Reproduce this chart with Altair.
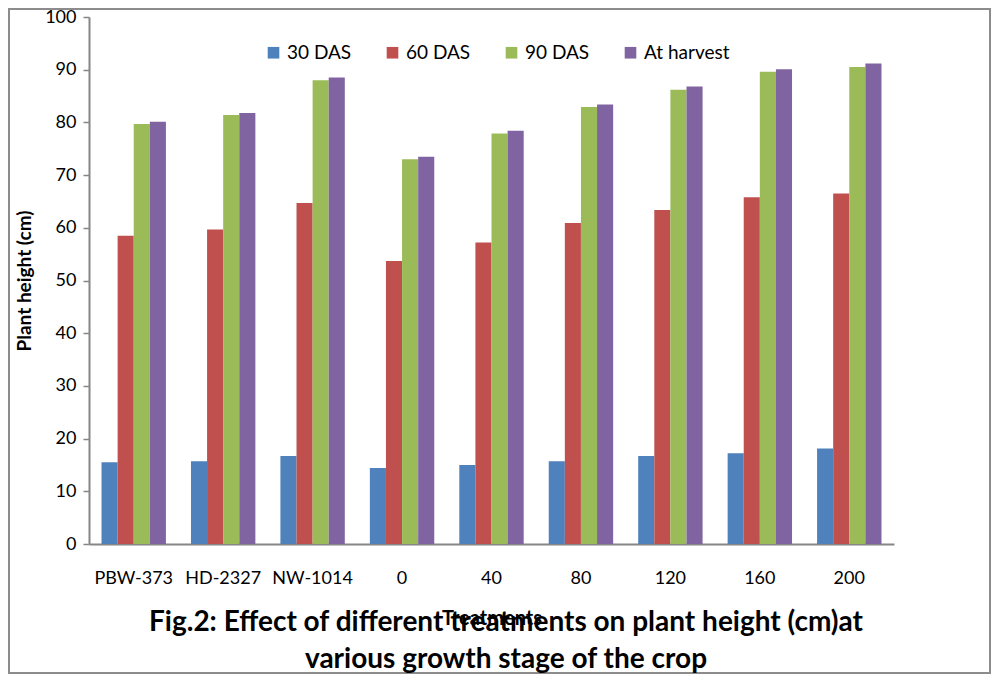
import altair as alt
import pandas as pd

treatments = ["PBW-373", "HD-2327", "NW-1014", "0", "40", "80", "120", "160", "200"]
series = ["30 DAS", "60 DAS", "90 DAS", "At harvest"]
das30 = [15.5, 15.7, 16.7, 14.4, 15.0, 15.7, 16.7, 17.2, 18.1]
das60 = [58.5, 59.7, 64.7, 53.7, 57.2, 60.9, 63.4, 65.8, 66.5]
das90 = [79.7, 81.4, 88.0, 73.0, 77.9, 82.9, 86.2, 89.6, 90.5]
harvest = [80.1, 81.8, 88.5, 73.5, 78.4, 83.4, 86.8, 90.1, 91.2]
colors = ["#4F81BD", "#C0504D", "#9BBB59", "#8064A2"]
title_lines = ["Fig.2: Effect of different treatments on plant height (cm)at",
               "various growth stage of the crop"]

rows = []
for s, vals in zip(series, [das30, das60, das90, harvest]):
    for t, v in zip(treatments, vals):
        rows.append({"Treatment": t, "Stage": s, "Height": v})
df = pd.DataFrame(rows)

W, H = 805, 527
PL, PT, PR, PB = 81, 9, 97, 130
FONT = "Lato"

bars = alt.Chart(df).mark_bar().encode(
    x=alt.X("Treatment:N", sort=treatments,
            scale=alt.Scale(paddingInner=0.28, paddingOuter=0.14),
            axis=alt.Axis(title="Treatments", labelAngle=0, ticks=False, tickSize=0,
                          labelPadding=25, labelFontSize=18, labelColor="#000",
                          titleFontSize=20, titleFontWeight="bold", titlePadding=21,
                          titleColor="#000",
                          domainColor="#868686", domainWidth=2)),
    xOffset=alt.XOffset("Stage:N", sort=series, scale=alt.Scale(paddingInner=0, paddingOuter=0)),
    y=alt.Y("Height:Q", scale=alt.Scale(domain=[0, 100], nice=False),
            axis=alt.Axis(title="Plant height (cm)", values=list(range(0, 101, 10)),
                          grid=False, tickSize=6, tickColor="#868686", tickWidth=1.5,
                          domainColor="#868686", domainWidth=2,
                          labelFontSize=18, labelColor="#000", labelPadding=7,
                          titleFontSize=19, titleFontWeight="bold", titleColor="#000",
                          titlePadding=10)),
    color=alt.Color("Stage:N", sort=series,
                    scale=alt.Scale(domain=series, range=colors),
                    legend=alt.Legend(title=None, orient="none", direction="horizontal",
                                      legendX=175, legendY=26, symbolType="square",
                                      symbolSize=135, symbolStrokeWidth=0,
                                      labelFontSize=19, labelColor="#000",
                                      columnPadding=31, labelOffset=4, padding=0)),
)

border = alt.Chart(pd.DataFrame({"a": [0]})).mark_rect(
    fillOpacity=0, stroke="#8c8c8c", strokeWidth=2
).encode(
    x=alt.value(-PL + 1), x2=alt.value(W + PR - 1),
    y=alt.value(-PT + 1), y2=alt.value(H + PB - 1),
)

title_df = pd.DataFrame({"line": title_lines, "i": [0, 1]})
title1 = alt.Chart(title_df).transform_filter("datum.i == 0").mark_text(
    font=FONT, fontSize=28, fontWeight="bold", color="#000", align="center", baseline="middle"
).encode(text="line:N", x=alt.value(417), y=alt.value(606))
title2 = alt.Chart(title_df).transform_filter("datum.i == 1").mark_text(
    font=FONT, fontSize=28, fontWeight="bold", color="#000", align="center", baseline="middle"
).encode(text="line:N", x=alt.value(417), y=alt.value(643))

chart = alt.layer(bars, border, title1, title2).properties(
    width=W, height=H,
    autosize=alt.AutoSizeParams(type="none"),
    padding={"left": PL, "top": PT, "right": PR, "bottom": PB},
).configure(font=FONT).configure_view(stroke=None)

chart.save("out.html", embed_options={"renderer": "svg", "actions": False})
